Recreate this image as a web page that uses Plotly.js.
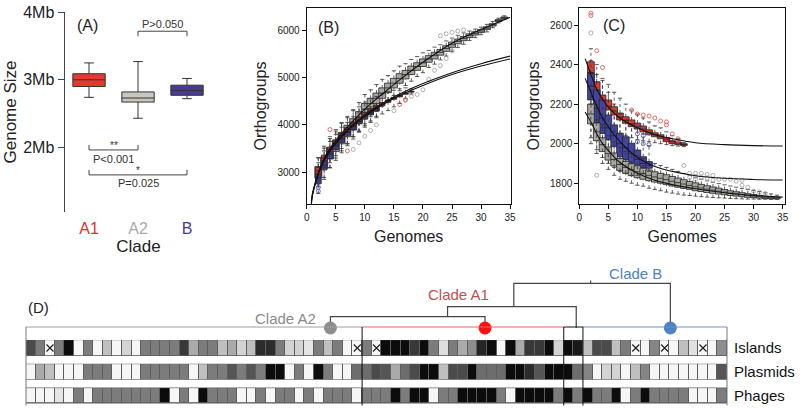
<!DOCTYPE html>
<html>
<head>
<meta charset="utf-8">
<script src="https://cdn.plot.ly/plotly-3.0.1.min.js"></script>
<style>
  body { margin: 0; background: #fff; }
  #fig { width: 800px; height: 409px; }
</style>
</head>
<body>
<div id="fig"></div>
<script>
// ---------- panel A: genome size per clade (Mb)
var clades = ['A1', 'A2', 'B'];
var sizeLow  = [2.74, 2.43, 2.72];
var sizeQ1   = [2.90, 2.67, 2.77];
var sizeMed  = [3.00, 2.73, 2.84];
var sizeQ3   = [3.09, 2.82, 2.92];
var sizeHigh = [3.25, 3.27, 3.02];

// ---------- panel B: pan-genome, orthogroups vs genomes
var genomesA1 = [2,3,4,5,6,7,8,9,10,11,12,13,14,15,16,17,18];
var genomesA2 = [2,3,4,5,6,7,8,9,10,11,12,13,14,15,16,17,18,19,20,21,22,23,24,25,26,27,28,29,30,31,32,33,34];
var genomesB  = [2,3,4,5,6,7,8,9,10,11,12];

var panA2Med = [3000,3200,3400,3560,3720,3870,4010,4160,4330,4450,4560,4670,4780,4880,4980,5060,5150,5230,5310,5390,5460,5530,5610,5690,5760,5820,5880,5930,5980,6040,6110,6200,6260];
var panA2Q1  = [2880,3080,3280,3440,3600,3750,3890,4040,4210,4340,4450,4560,4680,4780,4880,4970,5060,5150,5230,5320,5390,5470,5550,5635,5710,5775,5840,5895,5950,6010,6085,6180,6245];
var panA2Q3  = [3120,3320,3520,3680,3840,3990,4130,4280,4450,4560,4670,4780,4880,4980,5080,5150,5240,5310,5390,5460,5530,5590,5670,5745,5810,5865,5920,5965,6010,6070,6135,6220,6275];
var panA2Lo  = [2690,2890,3090,3250,3410,3560,3700,3850,4020,4170,4280,4390,4520,4620,4720,4830,4920,5020,5100,5210,5280,5370,5450,5550,5630,5700,5780,5840,5900,5960,6050,6150,6220];
var panA2Hi  = [3310,3510,3710,3870,4030,4180,4320,4470,4640,4740,4850,4960,5040,5140,5240,5290,5380,5440,5520,5570,5640,5690,5770,5830,5890,5940,5980,6020,6060,6120,6180,6250,6300];

var panA1Med = [3030,3300,3480,3640,3780,3900,4020,4120,4220,4300,4380,4440,4500,4560,4610,4660,4700];
var panA1Q1  = [2960,3240,3430,3600,3740,3860,3980,4080,4180,4265,4350,4410,4475,4540,4590,4645,4690];
var panA1Q3  = [3100,3360,3530,3680,3820,3940,4060,4160,4260,4335,4410,4470,4525,4580,4630,4675,4710];
var panA1Lo  = [2750,3100,3200,3350,3500,3600,3750,3850,3950,4050,4150,4230,4300,4380,4450,4550,4650];
var panA1Hi  = [3300,3550,3750,3900,4050,4150,4300,4380,4480,4550,4600,4650,4700,4730,4760,4780,4760];

var panBMed = [2880,3150,3380,3560,3700,3840,3960,4070,4170,4250,4320];
var panBQ1  = [2760,3050,3290,3480,3630,3780,3900,4020,4120,4210,4290];
var panBQ3  = [2990,3250,3460,3640,3770,3900,4020,4120,4220,4290,4350];
var panBLo  = [2550,2850,3100,3300,3450,3600,3750,3870,3980,4080,4180];
var panBHi  = [3200,3450,3650,3800,3950,4050,4170,4250,4330,4380,4420];

var panOutA1x = [4,7,16,17];
var panOutA1y = [3900,3450,4430,4520];
var panOutA2x = [8,9,10,11,12,15,17,18,19,20,21,23,24,25,26,27,22,23,24,25];
var panOutA2y = [3480,3620,3760,3880,4000,4300,4540,4600,4640,4740,4960,5880,5920,5950,5980,6000,5150,5250,5400,5560];
var panOutBx = [2,2];
var panOutBy = [2600,2680];

var panFitX  = [0.8,1,1.5,2,3,4,5,7,10,13,16,20,25,30,35];
var panFitA2 = [2330,2520,2780,2990,3290,3500,3670,3950,4330,4650,4950,5320,5720,6010,6270];
var panFitA1 = [2400,2560,2790,2980,3270,3470,3630,3900,4210,4450,4650,4870,5100,5290,5450];
var panFitB  = [2350,2520,2760,2950,3240,3440,3600,3870,4180,4420,4620,4830,5060,5240,5390];

// ---------- panel C: core genome, orthogroups vs genomes
var coreA1Med = [2360,2265,2215,2190,2165,2135,2118,2100,2088,2074,2058,2045,2035,2020,2010,2003,1996];
var coreA1Q1  = [2305,2221,2187,2170,2145,2120,2103,2086,2074,2060,2045,2035,2025,2010,2000,1995,1991];
var coreA1Q3  = [2414,2313,2246,2221,2187,2155,2136,2120,2104,2089,2070,2055,2045,2030,2015,2008,2000];
var coreA1Lo  = [2200,2120,2080,2080,2060,2050,2040,2030,2020,2015,2010,2005,2000,1995,1990,1988,1985];
var coreA1Hi  = [2480,2400,2330,2300,2260,2230,2200,2170,2150,2130,2110,2090,2080,2060,2040,2025,2005];

var coreBMed = [2290,2180,2130,2080,2040,2000,1980,1950,1920,1900,1890];
var coreBQ1  = [2221,2103,2052,2019,1985,1934,1918,1901,1884,1876,1876];
var coreBQ3  = [2355,2271,2221,2145,2095,2053,2035,2002,1968,1934,1909];
var coreBLo  = [2000,1970,1930,1900,1880,1860,1850,1840,1840,1850,1860];
var coreBHi  = [2420,2350,2320,2260,2200,2150,2120,2100,2080,2050,1990];

var coreA2Med = [2150,2060,1995,1950,1920,1895,1880,1868,1858,1848,1840,1832,1825,1818,1810,1803,1796,1789,1782,1776,1770,1765,1760,1755,1750,1746,1742,1738,1735,1732,1729,1727,1725];
var coreA2Q1  = [2100,2015,1960,1917,1887,1865,1850,1838,1828,1820,1813,1806,1800,1793,1786,1780,1774,1769,1762,1758,1753,1749,1745,1742,1738,1735,1732,1729,1727,1725,1723,1722,1721];
var coreA2Q3  = [2200,2105,2030,1983,1953,1925,1910,1898,1888,1876,1867,1858,1850,1843,1834,1826,1818,1809,1802,1794,1787,1781,1775,1768,1762,1757,1752,1747,1743,1739,1735,1732,1729];
var coreA2Lo  = [2030,1950,1900,1870,1840,1820,1810,1800,1790,1785,1775,1768,1762,1755,1750,1745,1740,1738,1735,1732,1730,1728,1726,1725,1723,1722,1721,1720,1720,1719,1719,1718,1718];
var coreA2Hi  = [2290,2200,2100,2040,2010,1980,1960,1950,1940,1925,1910,1900,1890,1880,1870,1860,1850,1840,1830,1820,1812,1805,1798,1792,1786,1780,1774,1768,1763,1758,1752,1746,1740];

var coreOutA1x = [2,2,3,4,9,10,11,12,13,14,15,15,16,17,17];
var coreOutA1y = [2660,2648,2470,2385,2170,2150,2145,2140,2130,2115,2110,2095,2050,2025,2015];
var coreOutA2x = [2,3,18,19,19,20,20,20,21,21,22,22,23,23,24,25,26,27,28,28,29,30,31,32];
var coreOutA2y = [2560,1840,1890,1850,1830,1850,1835,1820,1850,1830,1845,1825,1840,1815,1820,1820,1820,1810,1815,1790,1780,1760,1755,1748];
var coreOutBx = [10,10,10,11,11,11,12,12];
var coreOutBy = [2090,2050,2010,2080,2040,2000,1995,1890];

var coreFitX  = [1,1.5,2,3,4,5,7,10,13,16,20,25,30,35];
var coreFitA1 = [2430,2390,2350,2275,2225,2185,2130,2080,2045,2025,2005,1995,1990,1988];
var coreFitB  = [2330,2295,2260,2190,2130,2085,2010,1930,1885,1860,1838,1825,1819,1816];
var coreFitA2 = [2160,2135,2110,2050,2000,1965,1905,1850,1815,1793,1772,1752,1738,1730];

// ---------- panel D: mobile element content per genome (0 = none ... 5 = most)
var rowNames = ['Islands', 'Plasmids', 'Phages'];
var islands  = [4,3,0,3,5,0,3,0,1.5,0,1,0,3,3,3,3,4.3,2,3,3,1.5,2,1,1.5,4.5,4.5,3,1,1,0.5,3,1.5,3,0,0,
                3,0,5,5,5,4.3,5,3,0.7,3,2,2.6,4.6,5,0,5,2,4.3,4.3,5,1,
                5,4.8,
                1.5,4,4,1.5,3,0,0,2.8,0,0,1.5,0.6,0,0,2.6];
var plasmids = [0,2,1.5,0,0,0,3,3,3,0,0,0,3,3,3,3,3,0,1.5,3,3,3.8,3,3.8,3,5,5,0,3,0,5,3,0,0,3.3,
                3.3,4,3.8,2,3.3,4,5,5,1.5,4,4,5,3.3,3.3,3.3,5,5,4.5,3.8,5,5,
                5,3.3,
                2.8,0,1,1,0,1.5,2.8,0,0,0,0,0,0,0,3.8];
var phages   = [0,0,0,0.5,0,3,0,3,3,3,3,3,3,3,5,0,3,0,5,3,3,3,0,0,3,0,3,3,0,3,0,3,3,3,0,
                3,3,3,5,3,5,5,0,3,3,5,5,5,5,3,0,5,5,5,5,3,
                5,3,
                5,3,3,5,0,3,5,3,3,3,3,0,0,0,3];
var islandsMissing = [2, 34, 36, 63, 66, 70];   // genomes marked with a cross
var cladeSizes = [35, 21, 2, 15];               // A2 | A1 | unplaced | B
// dendrogram above the strip (x in genome columns, y = branch height)
var tipX = [31.2, 47.3, 66.6];
var tipColor = ['#8d8d8d', '#ff1010', '#4f81c5'];
var treeX = [31.2,31.2,47.3,47.3,null, 43.4,43.4,56.8,56.8,null, 50.3,50.3,66.6,66.6,null, 58.3,58.3];
var treeY = [0,11.3,11.3,0,null, 11.3,21.3,21.3,0,null, 21.3,44.7,44.7,0,null, 44.7,47.5];

// ---------- helpers
var W = 800, H = 409;
function px(x) { return x / W; }
function py(y) { return 1 - y / H; }
var fontFam = 'Liberation Sans, Arial, sans-serif';
var red = '#dc3b2f', gray = '#aaa7a1', blue = '#3f3f9c';

function boxes(xs, q1, med, q3, fill, ax, w) {
  return {type: 'box', x: xs, q1: q1, median: med, q3: q3, lowerfence: q1, upperfence: q3,
          fillcolor: fill, line: {color: '#222', width: 0.8}, width: w, whiskerwidth: 0,
          boxpoints: false, xaxis: 'x' + ax, yaxis: 'y' + ax, showlegend: false, hoverinfo: 'skip'};
}
function whiskers(xs, lo, q1, q3, hi, ax) {
  var x = [], y = [], cx = [], cy = [];
  for (var i = 0; i < xs.length; i++) {
    x.push(xs[i], xs[i], null, xs[i], xs[i], null);
    y.push(lo[i], q1[i], null, q3[i], hi[i], null);
    cx.push(xs[i], xs[i]); cy.push(lo[i], hi[i]);
  }
  return [
    {type: 'scatter', mode: 'lines', x: x, y: y, line: {color: '#333', width: 0.8, dash: 'dot'},
     xaxis: 'x' + ax, yaxis: 'y' + ax, showlegend: false, hoverinfo: 'skip'},
    {type: 'scatter', mode: 'markers', x: cx, y: cy,
     marker: {symbol: 'line-ew', size: 3, line: {color: '#333', width: 0.8}},
     xaxis: 'x' + ax, yaxis: 'y' + ax, showlegend: false, hoverinfo: 'skip'}
  ];
}
function outliers(xs, ys, color, ax) {
  return {type: 'scatter', mode: 'markers', x: xs, y: ys,
          marker: {symbol: 'circle-open', size: 4, color: color, line: {width: 0.8}},
          xaxis: 'x' + ax, yaxis: 'y' + ax, showlegend: false, hoverinfo: 'skip'};
}
function fit(xs, ys, ax) {
  return {type: 'scatter', mode: 'lines', x: xs, y: ys, line: {color: '#111', width: 1.1, shape: 'spline'},
          xaxis: 'x' + ax, yaxis: 'y' + ax, showlegend: false, hoverinfo: 'skip'};
}

var traces = [];

// panel A
var cladeFill = ['#e5392e', '#cbc7bf', '#4a3a96'];
clades.forEach(function (c, i) {
  traces.push({type: 'box', x: [c], q1: [sizeQ1[i]], median: [sizeMed[i]], q3: [sizeQ3[i]],
               lowerfence: [sizeLow[i]], upperfence: [sizeHigh[i]], fillcolor: cladeFill[i],
               line: {color: '#333', width: 1}, width: 0.66, whiskerwidth: 0.3, boxpoints: false,
               xaxis: 'x', yaxis: 'y', showlegend: false, hoverinfo: 'skip'});
});

// panel B
traces.push(boxes(genomesA2, panA2Q1, panA2Med, panA2Q3, gray, '2', 1.2));
traces.push(boxes(genomesB, panBQ1, panBMed, panBQ3, blue, '2', 1.0));
traces.push(boxes(genomesA1, panA1Q1, panA1Med, panA1Q3, red, '2', 0.95));
traces = traces.concat(whiskers(genomesA2, panA2Lo, panA2Q1, panA2Q3, panA2Hi, '2'));
traces = traces.concat(whiskers(genomesB, panBLo, panBQ1, panBQ3, panBHi, '2'));
traces = traces.concat(whiskers(genomesA1, panA1Lo, panA1Q1, panA1Q3, panA1Hi, '2'));
traces.push(outliers(panOutA2x, panOutA2y, '#9a9a9a', '2'));
traces.push(outliers(panOutBx, panOutBy, '#4a4aa8', '2'));
traces.push(outliers(panOutA1x, panOutA1y, '#d0524a', '2'));
traces.push(fit(panFitX, panFitA2, '2'));
traces.push(fit(panFitX, panFitA1, '2'));
traces.push(fit(panFitX, panFitB, '2'));

// panel C
traces.push(boxes(genomesA1, coreA1Q1, coreA1Med, coreA1Q3, red, '3', 1.15));
traces.push(boxes(genomesB, coreBQ1, coreBMed, coreBQ3, '#4344a0', '3', 1.15));
traces.push(boxes(genomesA2, coreA2Q1, coreA2Med, coreA2Q3, gray, '3', 1.15));
traces = traces.concat(whiskers(genomesA1, coreA1Lo, coreA1Q1, coreA1Q3, coreA1Hi, '3'));
traces = traces.concat(whiskers(genomesB, coreBLo, coreBQ1, coreBQ3, coreBHi, '3'));
traces = traces.concat(whiskers(genomesA2, coreA2Lo, coreA2Q1, coreA2Q3, coreA2Hi, '3'));
traces.push(outliers(coreOutA1x, coreOutA1y, '#d0524a', '3'));
traces.push(outliers(coreOutBx, coreOutBy, '#4a4aa8', '3'));
traces.push(outliers(coreOutA2x, coreOutA2y, '#9a9a9a', '3'));
traces.push(fit(coreFitX, coreFitA1, '3'));
traces.push(fit(coreFitX, coreFitB, '3'));
traces.push(fit(coreFitX, coreFitA2, '3'));

// panel D strip
var nCols = islands.length;
var cols = [];
for (var i = 0; i < nCols; i++) cols.push(i);
traces.push({type: 'heatmap', x: cols, y: [0, 1, 2], z: [islands, plasmids, phages],
             zmin: 0, zmax: 5, showscale: false, xgap: 1, ygap: 9, hoverinfo: 'skip',
             colorscale: [[0, '#f6f6f6'], [0.2, '#d3d3d3'], [0.4, '#aaaaaa'], [0.6, '#7c7c7c'], [0.8, '#4b4b4b'], [1, '#0c0c0c']],
             xaxis: 'x4', yaxis: 'y4'});
traces.push({type: 'scatter', mode: 'markers', x: islandsMissing, y: islandsMissing.map(function () { return 0; }),
             marker: {symbol: 'x-thin', size: 7, line: {color: '#222', width: 1.2}},
             xaxis: 'x4', yaxis: 'y4', showlegend: false, hoverinfo: 'skip'});
// dendrogram
traces.push({type: 'scatter', mode: 'lines', x: treeX, y: treeY, line: {color: '#444', width: 1.2},
             xaxis: 'x5', yaxis: 'y5', showlegend: false, hoverinfo: 'skip', connectgaps: false});
traces.push({type: 'scatter', mode: 'markers', x: tipX, y: tipX.map(function () { return 0; }),
             marker: {size: 13, color: tipColor}, cliponaxis: false,
             xaxis: 'x5', yaxis: 'y5', showlegend: false, hoverinfo: 'skip'});

// ---------- shapes
var shapes = [];
function seg(x0, y0, x1, y1, xref, yref, color, w) {
  shapes.push({type: 'line', xref: xref, yref: yref, x0: x0, y0: y0, x1: x1, y1: y1,
               line: {color: color, width: w || 1}});
}
// significance brackets in A
function bracket(x0, x1, y, yTip) {
  seg(x0, y, x1, y, 'x', 'y', '#444');
  seg(x0, y, x0, yTip, 'x', 'y', '#444');
  seg(x1, y, x1, yTip, 'x', 'y', '#444');
}
bracket(1, 2, 3.72, 3.645);
bracket(0, 1, 1.96, 2.035);
bracket(0, 2, 1.59, 1.665);

// strip frame and clade separators
var frameTop = -0.884, frameBottom = 2.42;
var edges = [-0.5];
cladeSizes.forEach(function (n) { edges.push(edges[edges.length - 1] + n); });
var topColors = ['#a0a0a0', '#e06a66', '#111', '#6a93c9'];
for (var r = 0; r < 3; r++) {
  shapes.push({type: 'rect', xref: 'x4', yref: 'y4', x0: edges[0], x1: edges[edges.length - 1],
               y0: r - 0.34, y1: r + 0.34, fillcolor: '#5e5e5e', line: {width: 0}, layer: 'below'});
}
topColors.forEach(function (c, k) {
  seg(edges[k], frameTop, edges[k + 1], frameTop, 'x4', 'y4', c, 1);
});
seg(edges[0], frameTop, edges[0], frameBottom, 'x4', 'y4', '#777', 1);
seg(edges[4], frameTop, edges[4], frameBottom, 'x4', 'y4', '#777', 1);
seg(edges[1], frameTop, edges[1], frameBottom, 'x4', 'y4', '#111', 1);
seg(edges[2], frameTop, edges[2], frameBottom, 'x4', 'y4', '#111', 1);
seg(edges[3], frameTop, edges[3], frameBottom, 'x4', 'y4', '#111', 1);

// ---------- annotations
function note(text, x, y, size, color) {
  return {text: text, x: px(x), y: py(y), xref: 'paper', yref: 'paper', showarrow: false,
          font: {size: size, color: color || '#222', family: fontFam}, xanchor: 'center', yanchor: 'middle'};
}
var annotations = [
  note('(A)', 87, 25, 16),
  note('(B)', 328, 27, 16),
  note('(C)', 614, 25, 16),
  note('(D)', 38, 307, 15),
  {text: 'P>0.050', x: 1.5, y: 3.83, xref: 'x', yref: 'y', showarrow: false, font: {size: 11, color: '#333'}},
  {text: '**', x: 0.5, y: 2.02, xref: 'x', yref: 'y', showarrow: false, font: {size: 10, color: '#333'}},
  {text: 'P<0.001', x: 0.5, y: 1.83, xref: 'x', yref: 'y', showarrow: false, font: {size: 11, color: '#333'}},
  {text: '*', x: 1, y: 1.65, xref: 'x', yref: 'y', showarrow: false, font: {size: 10, color: '#333'}},
  {text: 'P=0.025', x: 1, y: 1.47, xref: 'x', yref: 'y', showarrow: false, font: {size: 11, color: '#333'}},
  note('Clade A2', 285, 318, 15, '#8a8a8a'),
  note('Clade A1', 458, 294, 15, '#c0504d'),
  note('Clade B', 635, 273, 15, '#4f81bd')
];

var frameAxis = {showline: true, mirror: true, linecolor: '#111', linewidth: 1, ticks: 'outside',
                 ticklen: 4, tickcolor: '#111', showgrid: false, zeroline: false,
                 tickfont: {size: 10, color: '#222'}};
function merge(a, b) { var o = {}; for (var k in a) o[k] = a[k]; for (var k2 in b) o[k2] = b[k2]; return o; }

var layout = {
  width: W, height: H, margin: {l: 0, r: 0, t: 0, b: 0},
  paper_bgcolor: '#fff', plot_bgcolor: 'rgba(0,0,0,0)',
  font: {family: fontFam, color: '#222'},
  showlegend: false, boxmode: 'overlay',
  xaxis: {domain: [px(65), px(212)], anchor: 'y', type: 'category', range: [-0.49, 2.51],
          tickmode: 'array', tickvals: clades,
          ticktext: ['<span style="color:#e0302a">A1</span>', '<span style="color:#a9a9a9">A2</span>', '<span style="color:#4a3a96">B</span>'],
          showline: false, ticks: 'outside', ticklen: 2, tickcolor: 'rgba(0,0,0,0)', tickfont: {size: 16},
          title: {text: 'Clade', font: {size: 17}, standoff: 0}, showgrid: false, zeroline: false},
  yaxis: {domain: [py(212), py(12)], anchor: 'x', range: [1.04, 4.005], tickvals: [2, 3, 4],
          ticktext: ['2Mb', '3Mb', '4Mb'], ticks: 'outside', ticklen: 6, tickcolor: '#444',
          showline: true, linecolor: '#444', linewidth: 1.5, tickfont: {size: 16},
          title: {text: 'Genome Size', font: {size: 17}, standoff: 2}, showgrid: false, zeroline: false},
  xaxis2: merge(frameAxis, {domain: [px(306.7), px(510.7)], anchor: 'y2', range: [0, 35.1], tick0: 0, dtick: 5,
          title: {text: 'Genomes', font: {size: 16}, standoff: 8}}),
  yaxis2: merge(frameAxis, {domain: [py(204), py(8)], anchor: 'x2', range: [2330, 6465], tickvals: [3000, 4000, 5000, 6000],
          title: {text: 'Orthogroups', font: {size: 16}, standoff: 6}}),
  xaxis3: merge(frameAxis, {domain: [px(579.3), px(785)], anchor: 'y3', range: [0, 35.4], tick0: 0, dtick: 5,
          title: {text: 'Genomes', font: {size: 16}, standoff: 8}}),
  yaxis3: merge(frameAxis, {domain: [py(204), py(8)], anchor: 'x3', range: [1695, 2686], tickvals: [1800, 2000, 2200, 2400, 2600],
          title: {text: 'Orthogroups', font: {size: 16}, standoff: 6}}),
  xaxis4: {domain: [px(20), px(733)], anchor: 'y4', range: [-0.5 - 6 / 9.603, nCols - 0.5 + 6 / 9.603],
           visible: false, showgrid: false, zeroline: false},
  yaxis4: {domain: [py(408), py(320)], anchor: 'x4', range: [2.526, -1.179], side: 'right',
           tickmode: 'array', tickvals: [0, 1, 2], ticktext: rowNames, ticks: '', showline: false,
           showgrid: false, zeroline: false, tickfont: {size: 15, color: '#111'}},
  xaxis5: {domain: [px(20), px(733)], anchor: 'y5', range: [-0.5 - 6 / 9.603, nCols - 0.5 + 6 / 9.603],
           visible: false},
  yaxis5: {domain: [py(334), py(268)], anchor: 'x5', range: [-6, 60], visible: false},
  shapes: shapes,
  annotations: annotations
};

Plotly.newPlot('fig', traces, layout, {staticPlot: true});
</script>
</body>
</html>
